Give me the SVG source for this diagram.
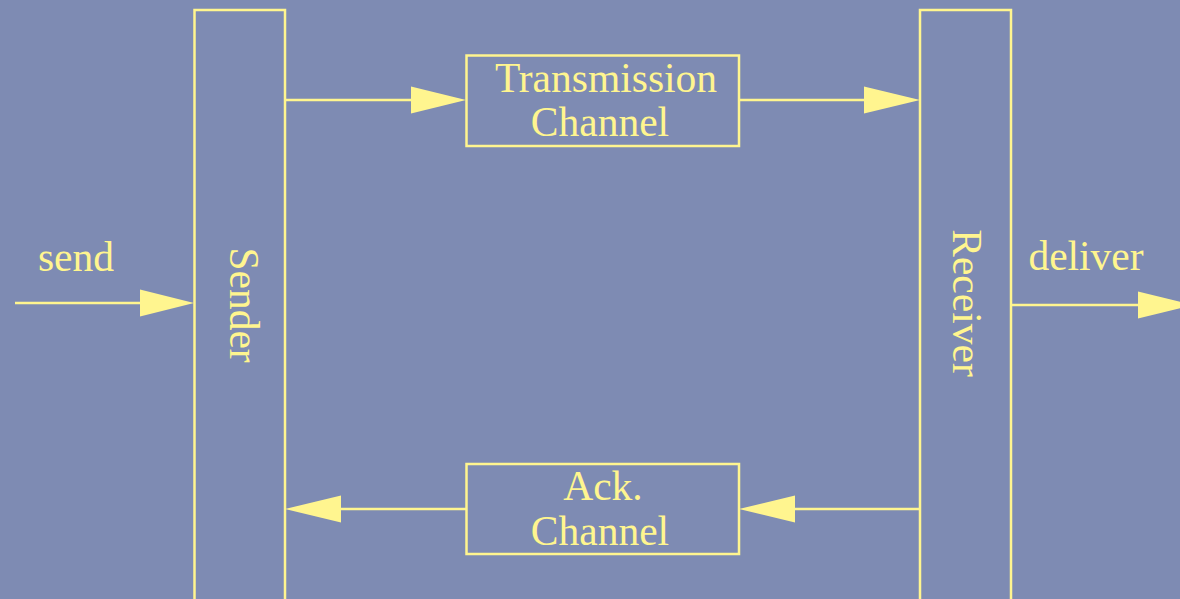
<svg xmlns="http://www.w3.org/2000/svg" width="1180" height="599" viewBox="0 0 1180 599">
  <style>
    .box { fill: none; stroke: #fff58f; stroke-width: 2.5; }
    .line { fill: none; stroke: #fff58f; stroke-width: 2.5; }
    .head { fill: #fff58f; stroke: none; }
    .label { font-family: "Liberation Serif", "Times New Roman", serif; font-size: 41.5px; fill: #fff58f; }
  </style>
  <rect x="0" y="0" width="1180" height="599" fill="#7e8bb3"/>

  <g id="sender">
    <rect class="box" x="194.5" y="10" width="90.5" height="600"/>
    <text class="label" text-anchor="middle" transform="translate(230,305) rotate(90)">Sender</text>
  </g>

  <g id="receiver">
    <rect class="box" x="920" y="10" width="91" height="600"/>
    <text class="label" text-anchor="middle" transform="translate(953,303) rotate(90)">Receiver</text>
  </g>

  <g id="transmission-channel">
    <rect class="box" x="466.5" y="55.5" width="272.5" height="90.5"/>
    <text class="label" x="606" y="92" text-anchor="middle">Transmission</text>
    <text class="label" x="600" y="136" text-anchor="middle">Channel</text>
  </g>

  <g id="ack-channel">
    <rect class="box" x="466.5" y="464" width="272.5" height="90"/>
    <text class="label" x="603" y="500" text-anchor="middle">Ack.</text>
    <text class="label" x="600" y="545" text-anchor="middle">Channel</text>
  </g>

  <g id="send-label">
    <text class="label" x="76" y="271" text-anchor="middle">send</text>
  </g>
  <g id="deliver-label">
    <text class="label" x="1086" y="270" text-anchor="middle">deliver</text>
  </g>

  <g id="connectors">
    <!-- send into sender -->
    <line class="line" x1="15" y1="303" x2="145" y2="303"/>
    <polygon class="head" points="194,303 140,289.5 140,316.5"/>
    <!-- sender to transmission channel -->
    <line class="line" x1="285" y1="100" x2="415" y2="100"/>
    <polygon class="head" points="466,100 411,86.5 411,113.5"/>
    <!-- transmission channel to receiver -->
    <line class="line" x1="739" y1="100" x2="868" y2="100"/>
    <polygon class="head" points="920,100 864,86.5 864,113.5"/>
    <!-- receiver out: deliver -->
    <line class="line" x1="1011" y1="305" x2="1142" y2="305"/>
    <polygon class="head" points="1193,305 1138,291.5 1138,318.5"/>
    <!-- receiver to ack channel -->
    <line class="line" x1="920" y1="509" x2="790" y2="509"/>
    <polygon class="head" points="739,509 795,495.5 795,522.5"/>
    <!-- ack channel to sender -->
    <line class="line" x1="466" y1="509" x2="336" y2="509"/>
    <polygon class="head" points="285,509 341,495.5 341,522.5"/>
  </g>
</svg>
